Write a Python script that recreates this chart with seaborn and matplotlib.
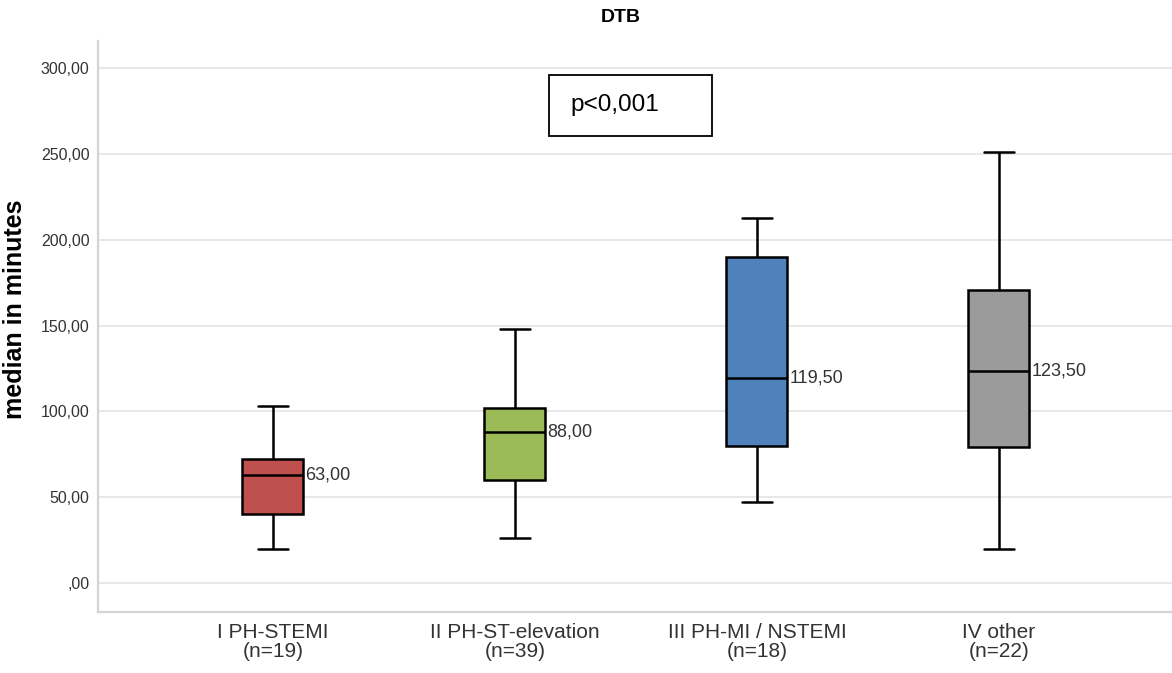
import matplotlib
matplotlib.use("Agg")
import matplotlib.pyplot as plt
import matplotlib.patches as mpatches
from matplotlib.ticker import FuncFormatter
import seaborn as sns
import pandas as pd
from matplotlib import font_manager

# Gruplar ve kutu istatistikleri (min, Q1, medyan, Q3, max) - dakika
groups = ["I PH-STEMI\n(n=19)", "II PH-ST-elevation\n(n=39)",
          "III PH-MI / NSTEMI\n(n=18)", "IV other\n(n=22)"]
whisker_low = [20, 26, 47, 20]
q1 = [40, 60, 80, 79]
medians = [63.0, 88.0, 119.5, 123.5]
q3 = [72, 102, 190, 171]
whisker_high = [103, 148, 212.5, 251]
colors = ["#c0504d", "#9bbb59", "#4f81bd", "#9b9b9b"]
y_ticks = [0, 50, 100, 150, 200, 250, 300]

# 5 noktalik veri: yuzdelikler tam olarak Q1/medyan/Q3 olur
rows = []
for g, lo, a, m, b, hi in zip(groups, whisker_low, q1, medians, q3, whisker_high):
    for v in (lo, a, m, b, hi):
        rows.append({"grup": g, "dakika": v})
df = pd.DataFrame(rows)

sns.set_theme(style="white")
installed = {f.name for f in font_manager.fontManager.ttflist}
narrow = "Liberation Sans Narrow" if "Liberation Sans Narrow" in installed else "Liberation Sans"
plt.rcParams["font.family"] = ["Liberation Sans", "DejaVu Sans"]

fig = plt.figure(figsize=(11.72, 6.73), dpi=100)
ax = fig.add_axes([98 / 1172, 1 - 612 / 673, 1 - 98 / 1172, (612 - 41) / 673])

box_w = 0.252
sns.boxplot(data=df, x="grup", y="dakika", hue="grup", palette=colors,
            saturation=1, whis=(0, 100), width=box_w, linecolor="black",
            linewidth=1.8, legend=False, ax=ax)

# medyan etiketleri
for i, m in enumerate(medians):
    ax.text(i + box_w / 2 + 0.008, m, f"{m:.2f}".replace(".", ","),
            va="center", ha="left", fontsize=13, color="#333333",
            family=[narrow, "DejaVu Sans"])

ax.set_xlim(-0.723, 3.715)
ax.set_ylim(-17, 316)
ax.set_yticks(y_ticks)


def spss_fmt(v, pos):
    s = f"{v:.2f}".replace(".", ",")
    return s[1:] if s.startswith("0,") else s


ax.yaxis.set_major_formatter(FuncFormatter(spss_fmt))
ax.grid(axis="y", color="#e6e6e6", linewidth=1.3)
ax.set_axisbelow(True)
ax.tick_params(axis="both", length=0, colors="#333333")
ax.tick_params(axis="y", labelsize=11.5, pad=6)
ax.tick_params(axis="x", labelsize=15, pad=8)
for lab in ax.get_xticklabels():
    lab.set_family([narrow, "DejaVu Sans"])
    lab.set_linespacing(1.0)

for side in ["top", "right"]:
    ax.spines[side].set_visible(False)
for side in ["left", "bottom"]:
    ax.spines[side].set_color("#d4d4d4")
    ax.spines[side].set_linewidth(1.6)

ax.set_xlabel("")
ax.set_ylabel("median in minutes", fontsize=18, fontweight="bold", color="black")
ax.yaxis.set_label_coords(-0.066, 0.53)

fig.text(621 / 1172, 1 - 17 / 673, "DTB", ha="center", va="center",
         fontsize=14, fontweight="bold", color="black",
         family=[narrow, "DejaVu Sans"])

# p-degeri kutusu
fig.patches.append(mpatches.Rectangle((549 / 1172, 1 - 136 / 673), 163 / 1172, 61 / 673,
                                      transform=fig.transFigure, fill=False,
                                      edgecolor="black", linewidth=1.3))
fig.text(570 / 1172, 1 - 105 / 673, "p<0,001", ha="left", va="center",
         fontsize=17.5, color="black")

fig.savefig("out.png", dpi=100)
